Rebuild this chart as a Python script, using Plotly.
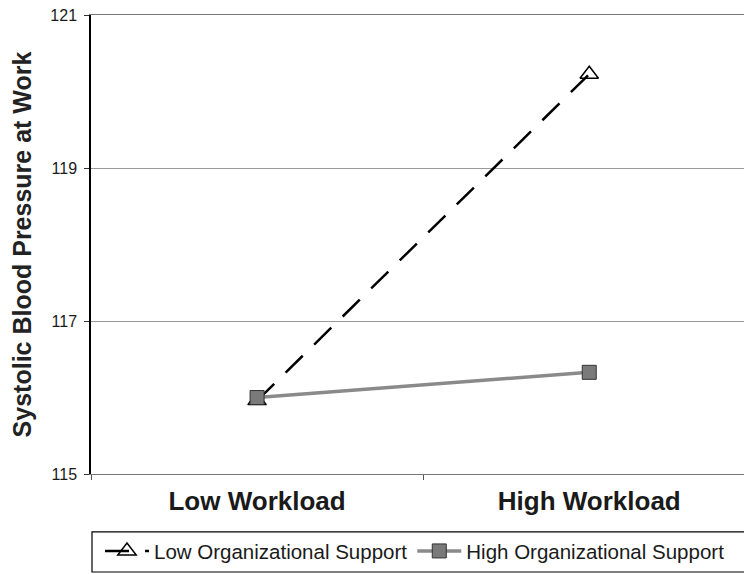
import plotly.graph_objects as go

categories = ["Low Workload", "High Workload"]
low_support = [115.96, 120.23]
high_support = [116.0, 116.33]
series_names = ["Low Organizational Support", "High Organizational Support"]
y_ticks = [115, 117, 119, 121]

FONT = "Liberation Sans, Arial, sans-serif"

fig = go.Figure()
fig.add_trace(go.Scatter(
    x=categories, y=low_support, name=series_names[0],
    mode="lines+markers",
    line=dict(color="black", width=2.5, dash="24px,16px"),
    marker=dict(symbol="triangle-up-open", size=16, color="black", line=dict(width=1.5)),
))
fig.add_trace(go.Scatter(
    x=categories, y=high_support, name=series_names[1],
    mode="lines+markers",
    line=dict(color="#8a8a8a", width=3.5),
    marker=dict(symbol="square", size=14, color="#7a7a7a", line=dict(color="#333333", width=1)),
))

# page body has an 8px margin, so the figure is sized to fill the rest of the window
fig.update_layout(
    width=744, height=566,
    margin=dict(l=83, r=0, t=7, b=100, autoexpand=False),
    paper_bgcolor="white", plot_bgcolor="white",
    font=dict(family=FONT, color="#1a1a1a"),
    showlegend=True,
    legend=dict(
        orientation="h", x=0.0136, xanchor="left", y=-0.168, yanchor="middle",
        font=dict(size=20.5, family=FONT, color="#1a1a1a"),
        bgcolor="rgba(0,0,0,0)", borderwidth=0,
        traceorder="normal", itemwidth=44,
    ),
    shapes=[dict(
        type="rect", xref="paper", yref="paper",
        x0=0.0015, x1=1.05, y0=-0.126, y1=-0.2135,
        line=dict(color="black", width=1.2), fillcolor="rgba(0,0,0,0)", layer="below",
    )],
)

fig.update_xaxes(
    type="category", range=[-0.5, 1.49], automargin=False,
    tickson="boundaries", ticks="outside", ticklen=5, tickcolor="#555",
    showgrid=False, showline=True, linecolor="#777", linewidth=1.2, mirror=True,
    tickfont=dict(size=26, family=FONT, color="#1a1a1a", weight="bold"),
    ticklabelstandoff=4,
)
fig.update_yaxes(
    range=[115, 121.004], tickvals=y_ticks, automargin=True,
    ticks="outside", ticklen=5, tickcolor="#333",
    showgrid=True, gridcolor="#9a9a9a", gridwidth=1,
    showline=True, linecolor="black", linewidth=1.5,
    zeroline=False, ticklabeloverflow="allow",
    tickfont=dict(size=16, family=FONT, color="#1a1a1a"),
    ticklabelstandoff=4,
    title=dict(text="Systolic Blood Pressure at Work",
               font=dict(size=25, family=FONT, color="#222", weight="bold"), standoff=22),
)

fig.write_html("out.html")
